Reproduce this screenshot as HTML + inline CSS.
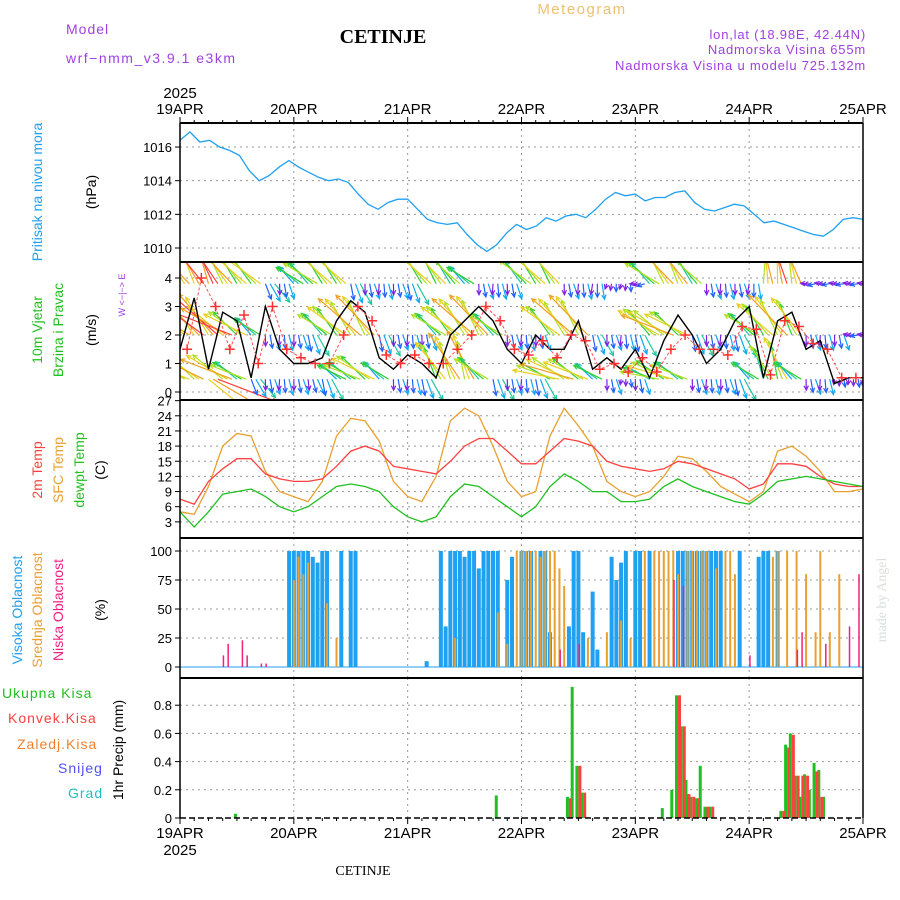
<!DOCTYPE html>
<html><head><meta charset="utf-8">
<style>
body{margin:0;background:#fff;}
svg{display:block;font-family:"Liberation Sans",sans-serif;}
</style></head>
<body>
<svg id="chart" width="900" height="900" viewBox="0 0 900 900">
<g id="static">
<text x="66" y="34" fill="#a040e0" font-size="14" letter-spacing="1">Model</text>
<text x="66" y="63" fill="#a040e0" font-size="14" letter-spacing="1.5">wrf−nmm_v3.9.1  e3km</text>
<text x="383" y="43" fill="#000" font-size="20" font-weight="bold" font-family="Liberation Serif,serif" text-anchor="middle">CETINJE</text>
<text x="582" y="14" fill="#f0c070" font-size="15" text-anchor="middle" letter-spacing="1.5">Meteogram</text>
<text x="866" y="39" fill="#a040e0" font-size="13" text-anchor="end" letter-spacing="0.8">lon,lat (18.98E, 42.44N)</text>
<text x="866" y="54" fill="#a040e0" font-size="13" text-anchor="end" letter-spacing="0.8">Nadmorska Visina 655m</text>
<text x="866" y="70" fill="#a040e0" font-size="13" text-anchor="end" letter-spacing="0.8">Nadmorska Visina u modelu 725.132m</text>
<text x="180" y="98" font-size="15" text-anchor="middle">2025</text>
<text x="180" y="855" font-size="15" text-anchor="middle">2025</text>
<text x="363" y="875" font-size="14" font-family="Liberation Serif,serif" text-anchor="middle">CETINJE</text>
<text transform="translate(886,600) rotate(-90)" fill="#d8e0d8" font-size="14" text-anchor="middle" font-family="Liberation Serif,serif">made by Angel</text>

<text transform="translate(42,192) rotate(-90)" fill="#20a0f0" font-size="14" text-anchor="middle">Pritisak na nivou mora</text>
<text transform="translate(96,192) rotate(-90)" font-size="14" text-anchor="middle">(hPa)</text>
<text transform="translate(42,330) rotate(-90)" fill="#20c020" font-size="14" text-anchor="middle">10m Vjetar</text>
<text transform="translate(63,330) rotate(-90)" fill="#20c020" font-size="14" text-anchor="middle">Brzina i Pravac</text>
<text transform="translate(96,330) rotate(-90)" font-size="14" text-anchor="middle">(m/s)</text>
<text transform="translate(125,295) rotate(-90)" fill="#a040e0" font-size="9" text-anchor="middle">W &lt;−|−&gt; E</text>
<text transform="translate(42,470) rotate(-90)" fill="#ff4040" font-size="14" text-anchor="middle">2m Temp</text>
<text transform="translate(63,470) rotate(-90)" fill="#e8a030" font-size="14" text-anchor="middle">SFC Temp</text>
<text transform="translate(84,470) rotate(-90)" fill="#20c020" font-size="14" text-anchor="middle">dewpt Temp</text>
<text transform="translate(105,470) rotate(-90)" font-size="14" text-anchor="middle">(C)</text>
<text transform="translate(22,610) rotate(-90)" fill="#20a0f0" font-size="14" text-anchor="middle">Visoka Oblacnost</text>
<text transform="translate(42,610) rotate(-90)" fill="#e8a030" font-size="14" text-anchor="middle">Srednja Oblacnost</text>
<text transform="translate(63,610) rotate(-90)" fill="#f02080" font-size="14" text-anchor="middle">Niska Oblacnost</text>
<text transform="translate(105,610) rotate(-90)" font-size="14" text-anchor="middle">(%)</text>
<text x="2" y="698" fill="#20c020" font-size="14" letter-spacing="1">Ukupna Kisa</text>
<text x="8" y="723" fill="#ff4040" font-size="14" letter-spacing="1">Konvek.Kisa</text>
<text x="17" y="749" fill="#f08030" font-size="14" letter-spacing="1">Zaledj.Kisa</text>
<text x="58" y="773" fill="#5050f0" font-size="14" letter-spacing="1">Snijeg</text>
<text x="68" y="798" fill="#20c0c0" font-size="14" letter-spacing="1">Grad</text>
<text transform="translate(123,750) rotate(-90)" font-size="14" text-anchor="middle">1hr Precip (mm)</text>
</g>
<g id="plot"></g>
</svg>
<script>
const dayLabels=["19APR","20APR","21APR","22APR","23APR","24APR","25APR"];
const pressureVals=[1016.4,1016.9,1016.3,1016.4,1016.0,1015.8,1015.5,1014.6,1014.0,1014.3,1014.8,1015.2,1014.8,1014.5,1014.2,1014.0,1014.1,1013.9,1013.2,1012.6,1012.3,1012.7,1012.9,1012.9,1012.3,1011.7,1011.5,1011.4,1011.5,1010.8,1010.2,1009.8,1010.2,1010.9,1011.4,1011.1,1011.3,1011.8,1011.6,1011.9,1012.0,1011.8,1012.3,1012.9,1013.3,1013.1,1013.2,1012.8,1013.0,1013.0,1013.3,1013.4,1012.7,1012.3,1012.2,1012.4,1012.6,1012.5,1012.0,1011.5,1011.6,1011.4,1011.2,1011.0,1010.8,1010.7,1011.1,1011.7,1011.8,1011.7];
const pressureTicks=[1010,1012,1014,1016];
const windSpeed=[1.5,3.3,0.8,2.8,2.5,0.5,3,1.5,1,1,1.2,2.5,3.2,2.8,1.2,0.8,1.3,1,0.5,2,2.5,3,2.5,1.5,1,2,1.5,1.5,2.5,0.8,1.2,0.8,1.5,0.5,1.8,2.7,2,1,1.5,2.5,3,0.5,2.5,2.8,1.5,1.8,0.3,0.5,0.5];
const windPlus=[1.5,4,3,1.5,2.7,1,3,1.5,1.2,1,1,2,3,2.5,1.3,1,1.3,1,1,1.5,2,3,2.5,1.5,1.3,1.8,1.2,2,1.8,0.8,1,0.7,1.2,0.7,1.5,2,1.5,1.5,1.3,2.3,2.2,0.6,2.5,2.3,1.7,1.5,0.5,0.5];
const windTicks=[0,1,2,3,4];
const arrowRowLevels=[3.8,2.0,0.45];
const arrowSpdTop=[7,8,9,7,6,6,3,2,4,5,6,6,3,2,2,2,3,6,6,5,4,2,2,2,5,6,6,2,2,2,1,1,1,5,7,7,5,2,2,2,2,7,8,7,1,1,1,1,1];
const arrowDirTop=[125,120,115,125,130,135,-60,-80,140,140,130,130,-70,-80,-85,-80,-70,130,125,130,140,-80,-85,-80,135,130,125,-80,-85,-90,-100,-95,190,140,125,120,130,-80,-85,-80,-90,95,100,105,185,180,180,180,180];
const arrowSpdMid=[7,8,8,8,6,4,2,2,2,3,5,6,7,7,3,2,2,2,5,6,7,7,5,2,2,2,6,7,7,3,2,2,3,6,7,6,3,2,2,3,5,6,7,6,2,2,2,1,1];
const arrowDirMid=[140,135,130,150,145,140,-80,-85,-80,-70,140,135,130,125,-70,-80,-85,-80,140,135,130,125,140,-80,-85,-80,135,130,125,-70,-80,-85,-70,140,150,145,-70,-80,-85,-70,140,130,125,120,-80,-85,-80,180,180];
const arrowSpdBot=[6,7,8,7,5,3,2,2,2,2,3,4,5,6,4,2,2,3,6,7,7,5,3,2,2,3,6,7,6,4,2,1,2,5,6,5,2,2,2,3,4,5,6,4,2,2,1,1,1];
const arrowDirBot=[150,145,-30,150,150,-60,-80,-85,-80,-75,-70,145,150,145,140,-80,-85,-70,120,115,110,140,-70,-80,-85,-70,160,155,150,145,-80,-90,-80,160,155,150,-80,-85,-80,-70,140,115,110,140,-80,-85,-90,-90,-90];
const temp2m=[7.5,6.5,11,13.5,15.5,15.5,12.5,11.5,11,11,11.5,14,17,18,17,14,13.5,13,12.5,15,18,19.5,19.5,17,14.5,14.5,17,19.5,19,18,15,14,13.5,13,13.5,15,14.5,13.5,12.5,11.5,9.5,10.5,14.5,14.5,14,12,10.5,10,10];
const tempSfc=[5,4.5,10,18,20.5,20,13,9,8,7,11,20,23.5,23,19,11,8,7,12,23,25.5,24,18,11,8,9,20,25.5,22,18,11,9,8,9,12,16,15.5,13,10,8.5,7,9,17,18,16,13,9,9,9.5];
const tempDew=[5,2,5,8.5,9,9.5,8,6,5,6,8,10,10.5,10,9,6,4,3,4,8,10.5,10,8,6,4,6,10,12.5,11,9,9,7,7,7.5,10,11.5,10,9,8,7,6.5,8.5,11,11.5,12,11.5,11,10.5,10];
const tempTicks=[3,6,9,12,15,18,21,24,27];
const highHours=[23,24,25,26,27,28,29,30,31,34,36,37,52,55,56,57,58,59,60,61,62,63,64,65,66,67,69,70,72,73,74,76,77,78,82,83,84,85,87,88,91,92,93,94,96,97,99,105,106,107,108,109,110,111,112,113,114,118,122,123,124,126];
const highVals=[100,100,100,100,100,95,90,100,100,100,100,100,5,100,35,100,100,100,95,100,100,85,100,100,100,100,75,95,100,100,100,100,100,30,35,100,100,30,65,15,95,75,90,100,100,100,100,100,100,100,100,100,100,100,100,100,100,100,95,100,100,100];
const midHours=[24,25,26,27,31,33,58,67,69,71,72,73,74,75,76,77,78,79,80,81,86,90,93,95,98,100,101,102,103,104,105,107,108,109,110,111,113,115,116,117,125,126,128,130,132,134,135,137,139];
const midVals=[75,95,80,90,55,25,25,47,20,100,100,100,100,100,95,100,100,100,85,70,25,30,40,25,100,100,100,100,100,100,80,100,100,100,100,100,85,100,100,80,95,100,100,100,80,30,100,30,80];
const lowHours=[9,10,13,14,17,18,80,84,104,106,120,130,131,136,141,143];
const lowVals=[10,20,23,10,3,3,15,20,75,70,10,15,30,20,35,80];
const cloudTicks=[0,25,50,75,100];
const precipHours=[12,67,82,83,84,85,102,104,105,106,107,108,109,110,111,112,127,128,129,130,131,132,133,134,135,136];
const precipTotal=[0.03,0.16,0.15,0.93,0.37,0.18,0.07,0.2,0.87,0.65,0.27,0.15,0.14,0.37,0.08,0.08,0.05,0.52,0.6,0.3,0.15,0.31,0.2,0.39,0.34,0.15];
const precipConv=[0,0,0.14,0,0.37,0.18,0,0,0.87,0.65,0.17,0.15,0.14,0,0.08,0.08,0.05,0.5,0.59,0.3,0.3,0.3,0,0.33,0.15,0];
const precipTicks=[0,0.2,0.4,0.6,0.8];

const NS="http://www.w3.org/2000/svg";
const plot=document.getElementById('plot');
const X0=180,X1=863,HOURS=144;
const xH=h=>X0+(X1-X0)*h/HOURS;
const xIdx=(i,n)=>X0+(X1-X0)*i/(n-1);
function el(tag,attrs,parent){const e=document.createElementNS(NS,tag);for(const k in attrs)e.setAttribute(k,attrs[k]);(parent||plot).appendChild(e);return e;}
function txt(x,y,s,attrs){const t=el('text',Object.assign({x:x,y:y,'font-size':14},attrs||{}));t.textContent=s;return t;}
const panels=[
 {top:123,bot:262,y:v=>248-(v-1010)*16.83,ticks:pressureTicks,fmt:v=>v},
 {top:262,bot:400,y:v=>392-v*28.5,ticks:windTicks,fmt:v=>v},
 {top:400,bot:538,y:v=>537-v*5.05,ticks:tempTicks,fmt:v=>v},
 {top:538,bot:678,y:v=>667-v*1.16,ticks:cloudTicks,fmt:v=>v},
 {top:678,bot:818,y:v=>818-v*141,ticks:precipTicks,fmt:v=>v===0?'0':v}
];
panels.forEach((p,pi)=>{
  for(let d=1;d<6;d++){const l=el('line',{x1:xH(d*24),x2:xH(d*24),y1:p.top,y2:p.bot,stroke:'#999','stroke-dasharray':'2,4'});
  
  }
  p.ticks.forEach(t=>{const y=p.y(t);
    if(y>p.top+2&&y<p.bot-2){const g=el('line',{x1:X0,x2:X1,y1:y,y2:y,stroke:'#999','stroke-dasharray':'2,4'});
    
    }
    el('line',{x1:X0-5,x2:X0,y1:y,y2:y,stroke:'#000'});
    const tl=txt(X0-8,y+5,String(p.fmt(t)),{'text-anchor':'end','font-size':13});
    
    
  });
});
let d='';pressureVals.forEach((v,i)=>{d+=(i?'L':'M')+xIdx(i,pressureVals.length).toFixed(1)+','+panels[0].y(v).toFixed(1);});
const pl=el('path',{d:d,fill:'none',stroke:'#20a0f0','stroke-width':1.3});


const clip=el('clipPath',{id:'wclip'});el('rect',{x:X0,y:262,width:X1-X0,height:138},clip);
const ag=el('g',{'clip-path':'url(#wclip)'});
const colors=['#8020e0','#8020e0','#2060ff','#10a8f0','#20c8a0','#30d030','#b0e020','#e8d020','#f0a020','#ff4040'];
[[arrowSpdTop,arrowDirTop],[arrowSpdMid,arrowDirMid],[arrowSpdBot,arrowDirBot]].forEach((row,ri)=>{
  const y0=panels[1].y(arrowRowLevels[ri]);
  row[0].forEach((s,i)=>{
    for(let k=0;k<3;k++){
      const x0=xIdx(i,row[0].length)+k*4.7;
      const a=(row[1][i]+(k-1)*9)*Math.PI/180,L=s*(5.5+k*1.2);
      const x1=x0+L*Math.cos(a),y1=y0-L*Math.sin(a);
      const c=colors[Math.min(9,Math.max(0,Math.round(s+(k-1)*0.6)))];
      const g=el('g',{stroke:c,'stroke-width':1.2,fill:'none'},ag);
      
      
      el('line',{x1:x0,y1:y0,x2:x1,y2:y1},g);
      const h1=a+Math.PI-0.45,h2=a+Math.PI+0.45;
      el('path',{d:`M${x1+5*Math.cos(h1)},${y1-5*Math.sin(h1)}L${x1},${y1}L${x1+5*Math.cos(h2)},${y1-5*Math.sin(h2)}`},g);
    }
  });
});
d='';windSpeed.forEach((v,i)=>{d+=(i?'L':'M')+xIdx(i,windSpeed.length).toFixed(1)+','+panels[1].y(v).toFixed(1);});
const wl=el('path',{d:d,fill:'none',stroke:'#000','stroke-width':1.4});


d='';windPlus.forEach((v,i)=>{const x=X0+(X1-X0)*(i+0.5)/windPlus.length,y=panels[1].y(v);
  d+=(i?'L':'M')+x.toFixed(1)+','+y.toFixed(1);});
el('path',{d:d,fill:'none',stroke:'#ff5050','stroke-width':1,'stroke-dasharray':'3,2'});
windPlus.forEach((v,i)=>{const x=X0+(X1-X0)*(i+0.5)/windPlus.length,y=panels[1].y(v);
  const m=el('path',{d:`M${x-5},${y}H${x+5}M${x},${y-5}V${y+5}`,stroke:'#ff3030','stroke-width':1.5});
  
  });
[[tempSfc,'#e8a030','sfc-temp-line'],[temp2m,'#ff4040','temp-2m-line'],[tempDew,'#20c020','dewpoint-line']].forEach(s=>{
  let dd='';s[0].forEach((v,i)=>{dd+=(i?'L':'M')+xIdx(i,s[0].length).toFixed(1)+','+panels[2].y(v).toFixed(1);});
  const p=el('path',{d:dd,fill:'none',stroke:s[1],'stroke-width':1.3});
  
  
});
function bars(hours,vals,color,w,off,pi,name){hours.forEach((h,i)=>{const y=panels[pi].y(vals[i]),y0=panels[pi].y(0);
  const r=el('rect',{x:xH(h)+off,y:y,width:w,height:Math.max(0,y0-y),fill:color});
  
  });}
el('line',{x1:X0,x2:X1,y1:panels[3].y(0),y2:panels[3].y(0),stroke:'#20a0f0','stroke-width':1});
bars(highHours,highVals,'#20a0f0',4,-2,3,'high-cloud-bar');
bars(midHours,midVals,'#e8a030',2,-1,3,'mid-cloud-bar');
bars(lowHours,lowVals,'#f02080',1.5,0,3,'low-cloud-bar');
bars(precipHours,precipTotal,'#20c020',3,-3,4,'total-precip-bar');
bars(precipHours,precipConv,'#ff4040',3,0,4,'convective-precip-bar');
[123,262,400,538,678].forEach(y=>el('line',{x1:X0,x2:X1,y1:y,y2:y,stroke:'#000','stroke-width':2}));
el('line',{x1:X0,x2:X1,y1:818,y2:818,stroke:'#000','stroke-width':1.5,'stroke-dasharray':'6,3'});
el('line',{x1:X0,x2:X0,y1:123,y2:818,stroke:'#000','stroke-width':1.5});
el('line',{x1:X1,x2:X1,y1:123,y2:818,stroke:'#000','stroke-width':1.5});
dayLabels.forEach((lab,i)=>{const x=xH(i*24);
  const a=txt(x,114,lab,{'text-anchor':'middle','font-size':15});
  
  
  const b=txt(x,838,lab,{'text-anchor':'middle','font-size':15});
  
  });
for(let h=0;h<=HOURS;h+=3){const x=xH(h),L=h%24===0?6:3;
  el('line',{x1:x,x2:x,y1:123,y2:123-L,stroke:'#000'});
  el('line',{x1:x,x2:x,y1:818,y2:818+L,stroke:'#000'});}
</script>
</body></html>
